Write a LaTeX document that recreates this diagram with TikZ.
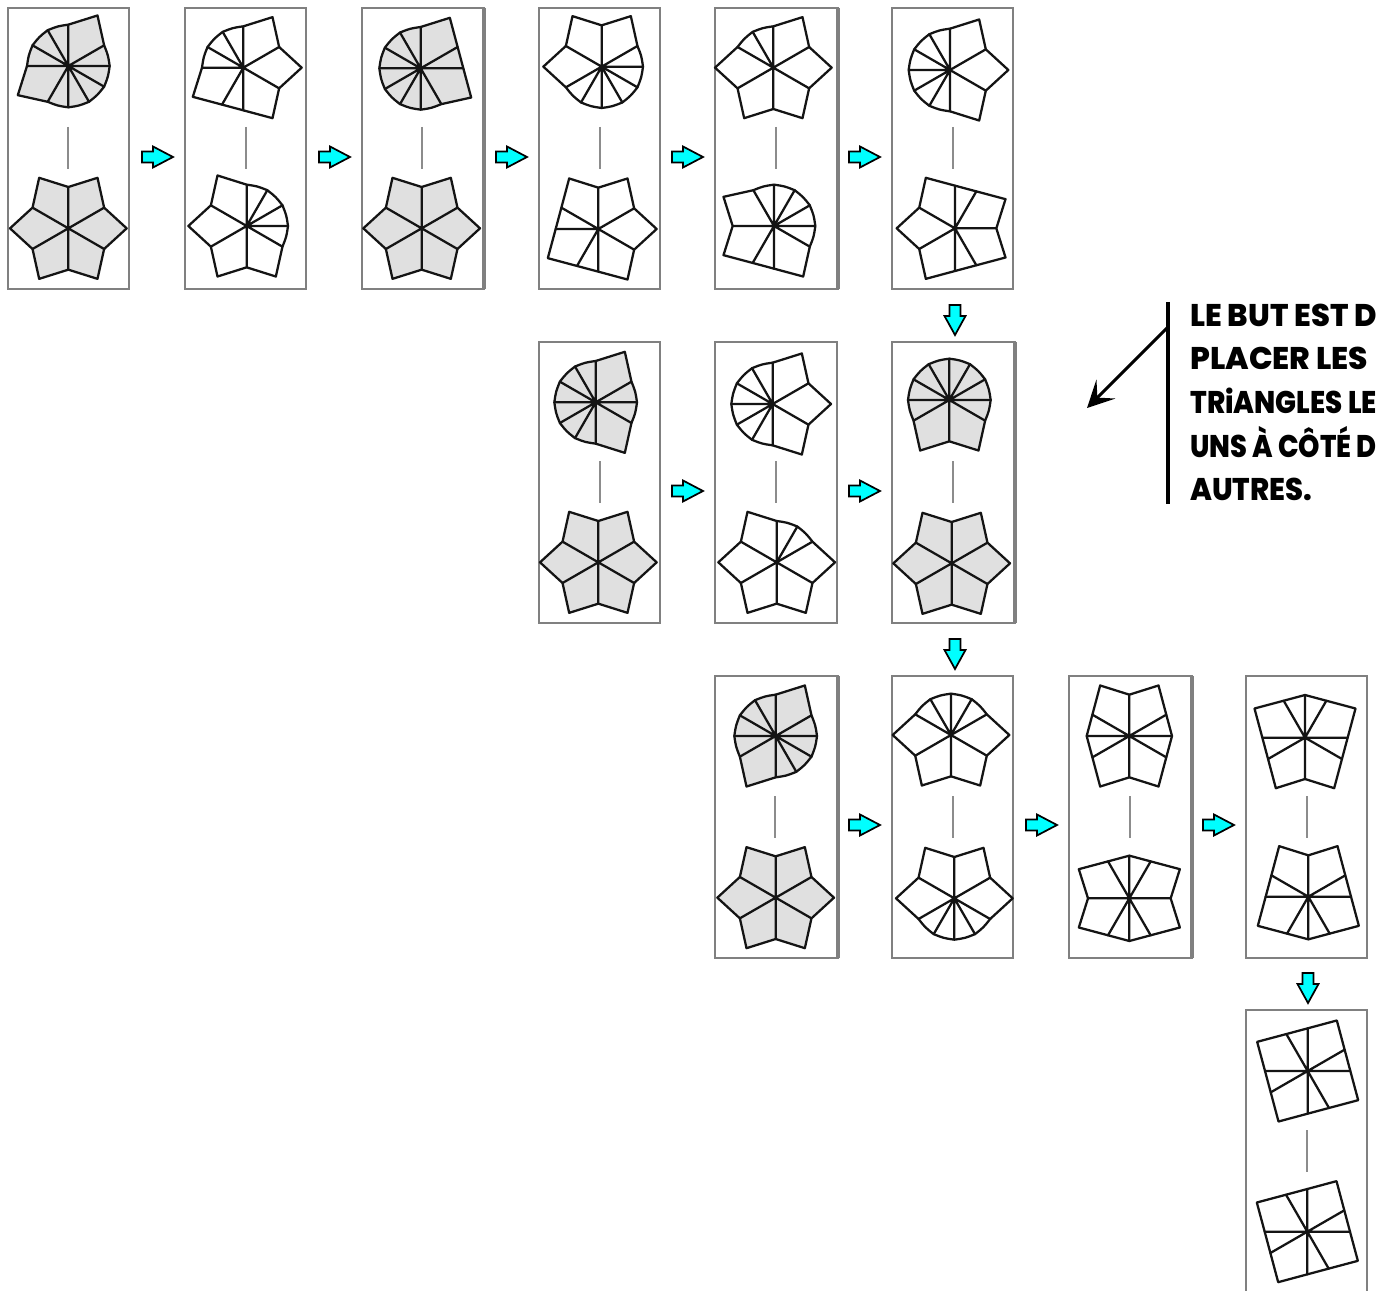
\documentclass[tikz,border=0pt]{standalone}
\usepackage{fontspec}
\usepackage{graphicx}
\setmainfont{Poppins}[BoldFont={* ExtraBold}]
\usetikzlibrary{arrows.meta}
\definecolor{cy}{HTML}{00FFFF}
\definecolor{lgray}{HTML}{E0E0E0}
\definecolor{pgray}{HTML}{808080}
\tikzset{
  panelbox/.style={draw=pgray,line width=1.2pt},
  panelthick/.style={draw=pgray,line width=2.6pt},
  rimline/.style={draw=black!92,line width=1.7pt,line join=round},
  spoke/.style={draw=black!92,line width=1.7pt,line cap=round},
  divider/.style={draw=black!45,line width=1pt},
  flow/.style={draw=black,line width=1.3pt,fill=cy,line join=miter},
  callbar/.style={draw=black,line width=2.5pt},
  callarrow/.style={draw=black,line width=2.3pt,-{Stealth[length=20pt,width=20pt,inset=9pt]}},
  calltext/.style={anchor=base west,inner sep=0pt,font=\bfseries\fontsize{23.5pt}{23.5pt}\selectfont}
}
\newcommand\pnl[5][]{%
  \draw[panelbox] (#2,#3) rectangle (#4,#5);
  \if\relax\detokenize{#1}\relax\else\draw[panelthick] (#4,#3) -- (#4,#5);\fi}
\newcommand\divd[2]{\draw[divider] (#1,#2) -- (#1,#2+42);}
\newcommand\rarr[2]{\draw[flow,shift={(#1,#2)}] (0,-5.5) -- (11,-5.5) -- (11,-10.5) -- (31,0) -- (11,10.5) -- (11,5.5) -- (0,5.5) -- cycle;}
\newcommand\darr[2]{\draw[flow,shift={(#1,#2)}] (-5.5,0) -- (-5.5,11) -- (-10.5,11) -- (0,30) -- (10.5,11) -- (5.5,11) -- (5.5,0) -- cycle;}
% segment from previous to current rim point; args: cx cy
\newcommand\addseg[8]{% x1 y1 a1 s1 x2 y2 a2 s2 (uses \fcx,\fcy)
  \ifnum#4=1 \ifnum#8=1
    \pgfmathsetmacro\dd{#7-#3}%
    \pgfmathsetmacro\dd{\dd>180?\dd-360:(\dd<-180?\dd+360:\dd)}%
    \pgfmathsetmacro\mm{#3+\dd/2}%
    \pgfmathsetmacro\ctx{\fcx+123.6*cos(\mm)}%
    \pgfmathsetmacro\cty{\fcy+123.6*sin(\mm)}%
    \xdef\figpath{\figpath .. controls (\ctx,\cty) and (\ctx,\cty) .. (#5,#6)}%
  \else\xdef\figpath{\figpath -- (#5,#6)}\fi
  \else\xdef\figpath{\figpath -- (#5,#6)}\fi}
% ox oy fill cx cy list(x/y/state: 0 tip, 1 spoke on a curved rim, 2 spoke on a straight edge)
\newcommand\fig[6]{%
\begin{scope}[shift={(#1,#2)},x=.25pt,y=-.25pt]
\def\fcx{#4}\def\fcy{#5}%
\gdef\figpath{}\gdef\figspk{}%
\foreach \a/\b/\s [count=\i] in {#6}{%
  \pgfmathsetmacro\ang{30*round(atan2(\b-#5,\a-#4)/30)}%
  \ifnum\s=0 \def\rr{175}\else\ifnum\s=2 \def\rr{128}\else\def\rr{124}\fi\fi
  \pgfmathsetmacro\px{#4+\rr*cos(\ang)}%
  \pgfmathsetmacro\py{#5+\rr*sin(\ang)}%
  \ifnum\i=1
    \xdef\fx{\px}\xdef\fy{\py}\xdef\fa{\ang}\xdef\fs{\s}%
    \xdef\figpath{(\px,\py)}%
  \else
    \addseg{\lx}{\ly}{\la}{\ls}{\px}{\py}{\ang}{\s}%
  \fi
  \xdef\lx{\px}\xdef\ly{\py}\xdef\la{\ang}\xdef\ls{\s}%
  \ifnum\s=0 \else\xdef\figspk{\figspk (#4,#5)--(\px,\py)}\fi}%
\addseg{\lx}{\ly}{\la}{\ls}{\fx}{\fy}{\fa}{\fs}%
\draw[rimline,fill=#3] \figpath -- cycle;
\draw[spoke] \figspk;
\end{scope}}
\begin{document}
\begin{tikzpicture}[x=.75pt,y=-.75pt]
\useasboundingbox (0,0) rectangle (1378,1291);
\fill[white] (0,0) rectangle (1378,1291);
% panels
\pnl{8}{8}{129}{289}
\pnl{185}{8}{306}{289}
\pnl[t]{362}{8}{484}{289}
\pnl{539}{8}{660}{289}
\pnl[t]{715}{8}{838}{289}
\pnl{892}{8}{1013}{289}
\pnl{539}{342}{660}{623}
\pnl{715}{342}{837}{623}
\pnl[t]{892}{342}{1015}{623}
\pnl[t]{715}{676}{838}{958}
\pnl{892}{676}{1013}{958}
\pnl[t]{1069}{676}{1192}{958}
\pnl{1246}{676}{1367}{958}
\pnl{1246}{1010}{1367}{1295}
% dividers
\foreach \x in {68,246,422,600,776,953}{\divd{\x}{127}}
\foreach \x in {600,776,953}{\divd{\x}{461}}
\foreach \x in {775,953,1130,1307}{\divd{\x}{796}}
\divd{1307}{1130}
% arrows
\foreach \x in {142,319,496,672,849}{\rarr{\x}{157}}
\foreach \x in {672,849}{\rarr{\x}{491}}
\foreach \x in {849,1026,1203}{\rarr{\x}{825}}
\darr{955}{305}\darr{955}{639}\darr{1308}{973}
% row 1
\fig{0}{0}{lgray}{205}{198}{288/45/0,313/135/1,330/195/1,315/262/1,260/305/1,205/320/1,140/305/1,52/285/0,77/198/1,90/125/1,143/85/1,205/72/1}
\fig{0}{0}{lgray}{205}{685}{205/560/1,292/537/0,313/625/1,378/685/0,313/748/1,295/832/0,207/808/1,115/832/0,98/745/1,30/685/0,95/622/1,115/537/0}
\fig{0}{0}{white}{730}{203}{820/52/0,838/140/1,906/203/0,842/265/1,820/350/0,733/325/2,668/315/2,582/290/0,608/205/1,620/135/1,670/95/1,730/80/1}
\fig{0}{0}{white}{740}{678}{738/560/1,800/572/1,838/622/1,862/680/1,845/742/1,828/828/0,740/805/1,652/825/0,628/740/1,563/680/0,628/618/1,648/530/0}
\fig{340}{0}{lgray}{242}{205}{335/52/0,352/140/2,372/200/2,397/290/0,305/310/1,250/325/1,185/312/1,135/258/1,118/205/1,135/135/1,185/92/1,245/75/1}
\fig{340}{0}{lgray}{245}{685}{245/560/1,335/537/0,352/627/1,420/685/0,352/748/1,335/832/0,250/808/1,157/832/0,138/745/1,70/685/0,135/622/1,157/537/0}
\fig{340}{0}{white}{785}{200}{868/45/0,893/135/1,908/195/1,893/260/1,845/305/1,783/320/1,720/303/1,680/250/1,607/195/0,672/130/1,695/47/0,783/72/1}
\fig{340}{0}{white}{775}{687}{775/562/1,865/537/0,885/625/1,955/687/0,888/748/1,862/832/0,782/808/2,712/795/2,628/772/0,650/687/2,668/622/2,688/537/0}
\fig{700}{0}{white}{220}{203}{308/52/0,327/140/1,393/203/0,327/265/1,305/350/0,222/325/1,133/350/0,112/258/1,47/200/0,112/140/1,157/92/1,220/78/1}
\fig{700}{0}{white}{222}{678}{220/555/1,287/570/1,327/622/1,345/680/1,330/742/1,305/830/0,220/803/2,157/790/2,70/765/0,93/682/1,70/595/0,160/572/1}
\fig{700}{0}{white}{750}{210}{842/60/0,860/150/1,928/210/0,862/272/1,840/355/0,758/332/1,692/322/1,650/265/1,628/210/1,648/140/1,695/100/1,752/85/1}
\fig{700}{0}{white}{765}{685}{765/560/2,828/575/2,917/600/0,890/682/1,915/770/0,825/795/2,770/808/2,678/832/0,660/745/1,590/685/0,655/622/1,680/538/0}
% row 2
\fig{530}{335}{lgray}{197}{202}{290/50/0,305/140/1,328/202/1,305/262/1,287/347/0,205/325/1,140/312/1,95/260/1,75/202/1,92/130/1,138/88/1,205/75/1}
\fig{530}{335}{lgray}{205}{682}{205/555/1,295/533/0,315/625/1,380/682/0,315/745/1,297/830/0,212/805/1,120/830/0,100/740/1,33/682/0,98/622/1,117/533/0}
\fig{530}{335}{white}{728}{207}{820/57/0,838/143/1,906/207/0,842/268/1,822/352/0,737/330/1,665/320/1,622/262/1,605/208/1,620/135/1,668/95/1,733/80/1}
\fig{530}{335}{white}{740}{682}{738/558/1,803/575/1,840/625/1,915/682/0,848/745/1,828/830/0,740/805/1,650/830/0,632/740/1,562/682/0,630/620/1,652/535/0}
\fig{850}{300}{lgray}{298}{300}{298/182/1,360/195/1,410/243/1,425/308/1,412/370/1,388/452/0,302/430/1,213/452/0,190/358/1,175/308/1,185/238/1,243/195/1}
\fig{850}{300}{lgray}{305}{790}{303/662/1,392/638/0,410/725/1,475/790/0,410/852/1,388/935/0,310/912/1,218/935/0,198/848/1,133/790/0,198/725/1,215/635/0}
% row 3
\fig{705}{670}{lgray}{212}{198}{298/48/0,320/140/1,340/198/1,325/255/1,272/305/1,215/322/1,125/345/0,105/252/1,85/198/1,102/135/1,150/92/1,210/75/1}
\fig{705}{670}{lgray}{212}{683}{210/558/1,303/535/0,318/622/1,385/683/0,320/745/1,302/830/0,215/805/1,125/830/0,105/740/1,37/680/0,102/620/1,122/530/0}
\fig{705}{670}{white}{738}{195}{738/72/1,805/90/1,838/145/1,913/200/0,850/262/1,830/347/0,738/322/1,650/347/0,630/258/1,563/198/0,630/140/1,675/92/1}
\fig{705}{670}{white}{748}{685}{748/558/1,838/530/0,858/622/1,925/685/0,855/745/1,805/790/1,750/803/1,685/790/1,648/740/1,575/680/0,640/618/1,660/533/0}
\fig{1050}{670}{white}{238}{198}{325/48/0,345/140/2,368/198/2,343/262/2,328/348/0,243/322/1,150/347/0,132/255/2,110/198/2,132/140/2,150/45/0,238/72/1}
\fig{1050}{670}{white}{238}{685}{238/555/2,302/572/2,388/597/0,363/680/1,388/770/0,298/790/2,243/803/2,175/790/2,88/768/0,112/682/1,88/597/0,178/575/2}
\fig{1050}{670}{white}{765}{203}{765/80/2,828/95/2,917/120/0,888/205/2,872/265/2,850/352/0,768/325/1,678/350/0,663/262/2,642/207/2,612/120/0,707/97/2}
\fig{1050}{670}{white}{775}{680}{775/552/1,860/527/0,880/617/2,895/675/2,925/762/0,832/782/2,775/798/2,712/785/2,622/762/0,650/678/2,665/617/2,688/525/0}
% last
\fig{1230}{965}{white}{233}{318}{232/195/2,320/168/0,345/260/2,352/318/2,380/400/0,290/424/2,233/438/2,147/462/0,122/372/2,108/318/2,82/230/0,172/206/2}
\fig{1230}{965}{white}{232}{800}{232/674/2,320/652/0,343/742/2,358/800/2,380/882/0,290/906/2,232/922/2,147/945/0,122/855/2,106/800/2,82/712/0,172/689/2}
% callout
\coordinate (bartop) at (1168,302);
\coordinate (barbot) at (1168,504);
\coordinate (arrstart) at (1168,327);
\coordinate (arrend) at (1087,408);
\draw[callbar] (bartop) -- (barbot);
\draw[callarrow] (arrstart) -- (arrend);
\node[calltext] (t1) at (1190,327) {\resizebox{140pt}{\height}{LE BUT EST D}};
\node[calltext] (t2) at (1190,370) {\resizebox{133.5pt}{\height}{PLACER LES}};
\node[calltext] (t3) at (1190,413) {\resizebox{140pt}{\height}{TRiANGLES LE}};
\node[calltext] (t4) at (1190,457) {\resizebox{140pt}{\height}{UNS À CÔTÉ D}};
\node[calltext] (t5) at (1190,500) {\resizebox{91.5pt}{\height}{AUTRES.}};
\end{tikzpicture}
\end{document}
